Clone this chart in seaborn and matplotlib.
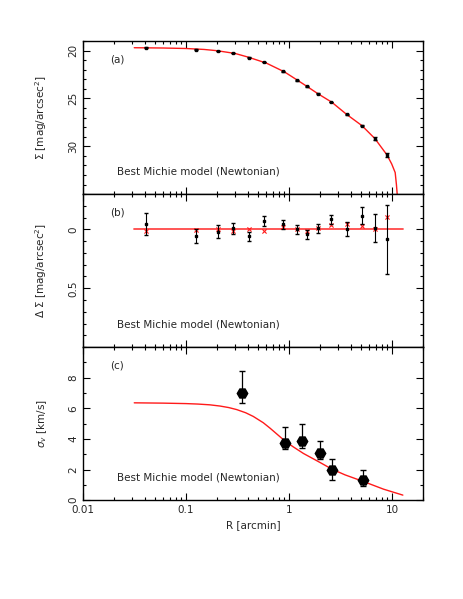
import seaborn as sns
import pandas as pd
import numpy as np
import matplotlib.pyplot as plt
from matplotlib.ticker import LogLocator, MultipleLocator, FixedLocator, NullFormatter

# radii of the surface brightness profile [arcmin]
r_sb = [0.041, 0.124, 0.206, 0.288, 0.412, 0.576, 0.869, 1.19, 1.49, 1.91,
        2.56, 3.63, 5.15, 6.79, 8.88]
# (a) surface brightness [mag/arcsec^2]
sigma_sb = [19.69, 19.90, 20.05, 20.26, 20.74, 21.20, 22.15, 23.10, 23.75, 24.50,
            25.38, 26.67, 27.85, 29.20, 30.94]
sigma_sb_err = [0.04, 0.04, 0.04, 0.04, 0.04, 0.04, 0.04, 0.04, 0.04, 0.04,
                0.04, 0.04, 0.06, 0.12, 0.22]

# (b) residuals: data (black) and model (red crosses)
dsig = [-0.045, 0.057, 0.020, -0.008, 0.057, -0.070, -0.042, 0.000, 0.043, -0.008,
        -0.085, 0.000, -0.116, -0.010, 0.085]
dsig_err = [0.095, 0.060, 0.055, 0.047, 0.038, 0.045, 0.040, 0.036, 0.040, 0.036,
            0.036, 0.060, 0.070, 0.120, 0.290]
dsig_model = [0.015, 0.005, 0.000, 0.010, 0.000, 0.015, -0.020, 0.000, 0.015, -0.008,
              -0.035, -0.045, -0.025, -0.005, -0.107]

# (c) velocity dispersion
r_vel = [0.352, 0.914, 1.35, 2.00, 2.60, 5.19]
sig_v = [7.02, 3.76, 3.89, 3.08, 1.99, 1.31]
sig_v_up = [1.44, 1.03, 1.07, 0.79, 0.67, 0.66]
sig_v_lo = [0.66, 0.44, 0.51, 0.42, 0.66, 0.39]

# best Michie model curves
model_r_a = [0.0315, 0.06, 0.1, 0.15, 0.2, 0.3, 0.4, 0.6, 0.9, 1.2, 1.5, 1.9,
             2.6, 3.6, 5.1, 6.8, 8.9, 9.9, 10.7, 11.0, 11.25]
model_sb = [19.70, 19.73, 19.78, 19.88, 20.01, 20.30, 20.68, 21.30, 22.22, 23.08,
            23.76, 24.50, 25.40, 26.65, 27.85, 29.20, 30.90, 31.85, 32.75, 34.0,
            35.3]
model_r_b = [0.0315, 12.7]
model_dsig = [0.0, 0.0]
model_r_c = [0.0315, 0.06, 0.1, 0.13, 0.17, 0.214, 0.26, 0.31, 0.38, 0.45, 0.562,
             0.655, 0.78, 0.914, 1.1, 1.38, 2.0, 2.6, 3.5, 5.26, 8.24, 12.7]
model_sv = [6.36, 6.34, 6.31, 6.28, 6.23, 6.15, 6.05, 5.92, 5.71, 5.47, 5.06,
            4.70, 4.26, 3.86, 3.48, 3.05, 2.46, 2.03, 1.65, 1.22, 0.72, 0.33]

label_txt = "Best Michie model (Newtonian)"

sns.set_style("ticks")
plt.rcParams['font.family'] = ['DejaVu Sans']
plt.rcParams['font.size'] = 7.5

fig = plt.figure(figsize=(4.63, 5.99), dpi=100)
left, width = 0.179, 0.735
h = 0.2555
bottoms = [0.165 + 2 * h, 0.165 + h, 0.165]
axes = [fig.add_axes([left, b, width, h]) for b in bottoms]
ax_a, ax_b, ax_c = axes

red = "#ff1a1a"

# panel (a)
sns.lineplot(x=model_r_a, y=model_sb, ax=ax_a, color=red, lw=1.0, sort=False)
ax_a.errorbar(r_sb, sigma_sb, yerr=sigma_sb_err, fmt="s", color="black",
              ms=1.8, capsize=1.2, elinewidth=0.8, zorder=3)
ax_a.set_ylim(35, 19)
ax_a.yaxis.set_major_locator(FixedLocator([20, 25, 30]))
ax_a.yaxis.set_minor_locator(MultipleLocator(1))
ax_a.set_ylabel(r"$\Sigma$ [mag/arcsec$^2$]")
ax_a.text(0.08, 0.88, "(a)", transform=ax_a.transAxes, va="center")

# panel (b)
sns.lineplot(x=model_r_b, y=model_dsig, ax=ax_b, color=red, lw=1.3, alpha=0.8)
sns.scatterplot(x=r_sb, y=dsig_model, ax=ax_b, marker="x", color=red, s=9,
                linewidth=0.8, zorder=3)
ax_b.errorbar(r_sb, dsig, yerr=dsig_err, fmt="s", color="black",
              ms=1.8, capsize=1.5, elinewidth=0.8, zorder=4)
ax_b.set_ylim(1.0, -0.3)
ax_b.yaxis.set_major_locator(FixedLocator([0, 0.5]))
ax_b.yaxis.set_minor_locator(MultipleLocator(0.1))
ax_b.set_yticklabels(["0", "0.5"])
ax_b.set_ylabel(r"$\Delta\ \Sigma$ [mag/arcsec$^2$]")
ax_b.text(0.08, 0.88, "(b)", transform=ax_b.transAxes, va="center")

# panel (c)
sns.lineplot(x=model_r_c, y=model_sv, ax=ax_c, color=red, lw=1.0)
ax_c.errorbar(r_vel, sig_v, yerr=[sig_v_lo, sig_v_up], fmt="H", color="black",
              ms=7.5, capsize=2, elinewidth=0.9, zorder=3)
ax_c.set_ylim(0, 10)
ax_c.yaxis.set_major_locator(FixedLocator([0, 2, 4, 6, 8]))
ax_c.yaxis.set_minor_locator(MultipleLocator(1))
ax_c.set_ylabel(r"$\sigma_v$ [km/s]")
ax_c.set_xlabel("R [arcmin]")
ax_c.text(0.08, 0.88, "(c)", transform=ax_c.transAxes, va="center")

for ax in axes:
    ax.set_xscale("log")
    ax.set_xlim(0.01, 20)
    ax.xaxis.set_major_locator(LogLocator(base=10, numticks=10))
    ax.xaxis.set_minor_locator(LogLocator(base=10, subs=np.arange(2, 10), numticks=20))
    ax.xaxis.set_minor_formatter(NullFormatter())
    ax.text(0.1, 0.15, label_txt, transform=ax.transAxes, va="center")
    ax.tick_params(which="both", direction="in", top=True, right=True,
                   color="black", width=0.8)
    ax.tick_params(which="major", length=5)
    ax.tick_params(which="minor", length=2.5)
    ax.tick_params(axis="y", labelrotation=90)
    for lab in ax.get_yticklabels():
        lab.set_va("center")
    for s in ax.spines.values():
        s.set_linewidth(1.0)
        s.set_color("black")
    ax.set_facecolor("white")
    ax.yaxis.set_label_coords(-0.1, 0.5)

for ax in (ax_a, ax_b):
    ax.tick_params(labelbottom=False)

ax_c.set_xticks([0.01, 0.1, 1, 10])
ax_c.set_xticklabels(["0.01", "0.1", "1", "10"])
ax_c.set_xlim(0.01, 20)

fig.savefig("out.png", dpi=100)
